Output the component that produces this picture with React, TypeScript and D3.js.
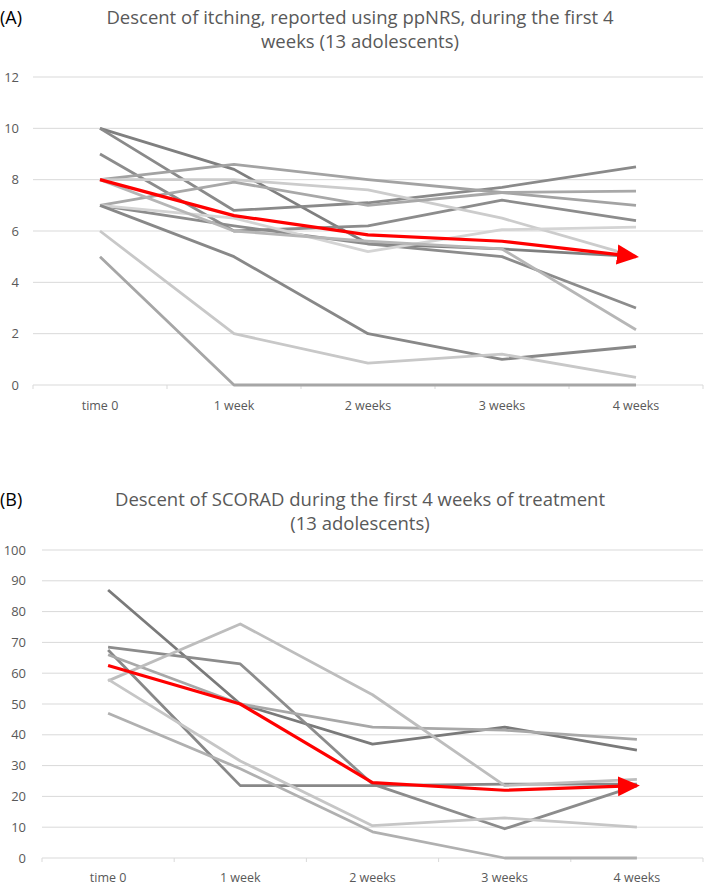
import React from "react";
import * as d3 from "d3";

const categories = ["time 0", "1 week", "2 weeks", "3 weeks", "4 weeks"];

// Panel A: ppNRS itching scores per adolescent
const itchSeries: { values: number[]; color: string }[] = [
  { values: [10, 8.4, 5.5, 5.3, 5.0], color: "#7f7f7f" },
  { values: [10, 6.8, 7.1, 7.7, 8.5], color: "#8a8a8a" },
  { values: [9, 6.0, 6.2, 7.2, 6.4], color: "#8c8c8c" },
  { values: [8, 8.6, 8.0, 7.5, 7.0], color: "#a3a3a3" },
  { values: [8, 8.0, 7.6, 6.5, 5.0], color: "#cccccc" },
  { values: [7, 7.9, 7.0, 7.5, 7.55], color: "#a8a8a8" },
  { values: [7, 6.2, 5.5, 5.0, 3.0], color: "#8c8c8c" },
  { values: [7, 6.5, 5.2, 6.05, 6.15], color: "#d4d4d4" },
  { values: [7, 5.0, 2.0, 1.0, 1.5], color: "#888888" },
  { values: [6, 2.0, 0.85, 1.2, 0.3], color: "#c8c8c8" },
  { values: [5, 0, 0, 0, 0], color: "#a6a6a6" },
  { values: [8, 6.0, 5.6, 5.3, 2.15], color: "#b6b6b6" },
];
const itchMean = [8, 6.6, 5.85, 5.6, 5.0];
const itchTicks = [0, 2, 4, 6, 8, 10, 12];

// Panel B: SCORAD per adolescent
const scoradSeries: { values: number[]; color: string }[] = [
  { values: [87, 50, 37, 42.5, 35], color: "#7a7a7a" },
  { values: [68.5, 63, 24, 9.5, 23.5], color: "#8c8c8c" },
  { values: [67.5, 23.5, 23.5, 24, 24], color: "#888888" },
  { values: [66, 50, 42.5, 41.5, 38.5], color: "#a8a8a8" },
  { values: [57.5, 76, 53, 23.5, 25.5], color: "#bdbdbd" },
  { values: [58, 31.5, 10.5, 13, 10], color: "#c6c6c6" },
  { values: [47, 29, 8.5, 0, 0], color: "#b0b0b0" },
];
const scoradMean = [62.5, 50, 24.5, 22, 23.5];
const scoradTicks = [0, 10, 20, 30, 40, 50, 60, 70, 80, 90, 100];

const TEXT = "#595959";
const GRID = "#d9d9d9";
const FONT = "'Open Sans', 'Liberation Sans', sans-serif";

type PanelProps = {
  id: string;
  letter: string;
  titleLines: string[];
  titleY: number[];
  series: { values: number[]; color: string }[];
  mean: number[];
  ticks: number[];
  yMax: number;
  x0: number;
  x1: number;
  yTop: number;
  yBottom: number;
  labelRight: number;
  catLabelY: number;
};

function Panel(p: PanelProps) {
  const band = d3.scaleBand<string>().domain(categories).range([p.x0, p.x1]);
  const xp = (i: number) => (band(categories[i]) as number) + band.bandwidth() / 2;
  const y = d3.scaleLinear().domain([0, p.yMax]).range([p.yBottom, p.yTop]);
  const line = d3
    .line<number>()
    .x((_, i) => xp(i))
    .y((d) => y(d));
  const boundaries = d3.range(categories.length + 1).map((i) => p.x0 + i * band.bandwidth());
  return (
    <g>
      <defs>
        <marker
          id={`arrow-${p.id}`}
          markerUnits="userSpaceOnUse"
          markerWidth={22}
          markerHeight={22}
          viewBox="0 0 22 22"
          refX={19}
          refY={11}
          orient="auto"
        >
          <path d="M0,1 L22,11 L0,21 Z" fill="#ff0000" />
        </marker>
      </defs>
      <text x={0} y={p.titleY[0]} fontFamily={FONT} fontSize={18} fill="#000">
        {p.letter}
      </text>
      {p.titleLines.map((t, i) => (
        <text
          key={i}
          x={360}
          y={p.titleY[i]}
          textAnchor="middle"
          fontFamily={FONT}
          fontSize={18.5}
          fill={TEXT}
        >
          {t}
        </text>
      ))}
      {p.ticks.map((t) => (
        <g key={t}>
          <line x1={p.x0} x2={p.x1} y1={y(t)} y2={y(t)} stroke={GRID} strokeWidth={1} />
          <text
            x={p.labelRight}
            y={y(t)}
            dy="0.35em"
            textAnchor="end"
            fontFamily={FONT}
            fontSize={13}
            fill={TEXT}
          >
            {t}
          </text>
        </g>
      ))}
      {boundaries.map((bx, i) => (
        <line key={i} x1={bx} x2={bx} y1={p.yBottom} y2={p.yBottom + 4} stroke={GRID} strokeWidth={1} />
      ))}
      {categories.map((c, i) => (
        <text
          key={c}
          x={xp(i)}
          y={p.catLabelY}
          textAnchor="middle"
          fontFamily={FONT}
          fontSize={12.5}
          fill={TEXT}
        >
          {c}
        </text>
      ))}
      {p.series.map((s, i) => (
        <path
          key={i}
          d={line(s.values) as string}
          fill="none"
          stroke={s.color}
          strokeWidth={2.8}
          strokeLinejoin="round"
        />
      ))}
      <path
        d={line(p.mean) as string}
        fill="none"
        stroke="#ff0000"
        strokeWidth={3.2}
        strokeLinejoin="round"
        markerEnd={`url(#arrow-${p.id})`}
      />
    </g>
  );
}

export default function App() {
  return (
    <svg width={709} height={888} style={{ display: "block", position: "absolute", left: 0, top: 0 }}>
      <rect width={709} height={888} fill="#ffffff" />
      <Panel
        id="a"
        letter="(A)"
        titleLines={["Descent of itching, reported using ppNRS, during the first 4", "weeks (13 adolescents)"]}
        titleY={[24, 48]}
        series={itchSeries}
        mean={itchMean}
        ticks={itchTicks}
        yMax={12}
        x0={33}
        x1={703}
        yTop={77}
        yBottom={385}
        labelRight={19}
        catLabelY={410}
      />
      <Panel
        id="b"
        letter="(B)"
        titleLines={["Descent of SCORAD during the first 4 weeks of treatment", "(13 adolescents)"]}
        titleY={[506, 530]}
        series={scoradSeries}
        mean={scoradMean}
        ticks={scoradTicks}
        yMax={100}
        x0={42}
        x1={703}
        yTop={550}
        yBottom={858}
        labelRight={26}
        catLabelY={882}
      />
    </svg>
  );
}
